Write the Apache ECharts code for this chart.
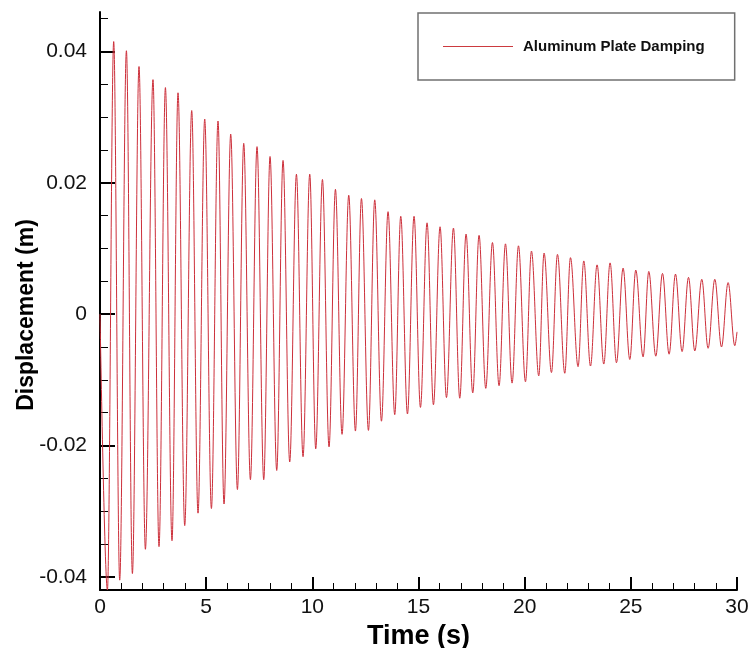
<!DOCTYPE html>
<html>
<head>
<meta charset="utf-8">
<script src="https://cdn.jsdelivr.net/npm/echarts@6/dist/echarts.min.js"></script>
<style>
html,body{margin:0;padding:0;background:#fff;}
#chart{width:751px;height:648px;}
</style>
</head>
<body>
<div id="chart"></div>
<script>
// Times (s) and displacements (m) of the local minima and maxima
const troughTimes = [0.349,0.928,1.526,2.138,2.779,3.391,3.990,4.616,5.247,5.841,6.472,7.084,7.711,8.323,8.935,9.562,
  10.160,10.787,11.399,12.030,12.643,13.255,13.881,14.480,15.092,15.704,16.317,16.943,17.555,18.168,18.794,19.407,
  20.038,20.664,21.262,21.889,22.515,23.100,23.726,24.324,24.951,25.577,26.175,26.802,27.414,28.012,28.639,29.270,29.896];
const troughValues = [-0.0420,-0.0405,-0.0395,-0.0358,-0.0354,-0.0345,-0.0322,-0.0303,-0.0296,-0.0289,-0.0267,-0.0252,-0.0252,-0.0238,-0.0225,-0.0217,
  -0.0205,-0.0202,-0.0183,-0.0178,-0.0177,-0.0163,-0.0153,-0.0152,-0.0142,-0.0138,-0.0127,-0.0128,-0.0120,-0.0113,-0.0109,-0.0105,
  -0.0103,-0.0094,-0.0089,-0.0090,-0.0080,-0.0079,-0.0076,-0.0074,-0.0069,-0.0065,-0.0064,-0.0061,-0.0057,-0.0056,-0.0052,-0.0050,-0.0048];
const peakTimes = [0.645,1.244,1.837,2.496,3.081,3.674,4.319,4.932,5.558,6.156,6.769,7.395,8.008,8.620,9.251,9.878,
  10.476,11.088,11.715,12.313,12.939,13.566,14.164,14.790,15.403,16.015,16.646,17.240,17.852,18.483,19.096,19.708,
  20.320,20.914,21.545,22.157,22.784,23.410,24.023,24.635,25.233,25.846,26.491,27.103,27.716,28.342,28.954,29.581];
const peakValues = [0.0415,0.0401,0.0377,0.0357,0.0345,0.0337,0.0310,0.0297,0.0294,0.0274,0.0260,0.0255,0.0240,0.0234,0.0213,0.0213,
  0.0205,0.0190,0.0181,0.0176,0.0174,0.0156,0.0149,0.0149,0.0139,0.0133,0.0131,0.0122,0.0120,0.0109,0.0107,0.0104,
  0.0096,0.0093,0.0091,0.0086,0.0081,0.0075,0.0078,0.0070,0.0067,0.0065,0.0062,0.0061,0.0056,0.0053,0.0053,0.0048];
const startPoint = [0, 0.0];
const endPoint = [30, -0.0027];

const seriesName = 'Aluminum Plate Damping';
const xTitle = 'Time (s)';
const yTitle = 'Displacement (m)';
const yMajorTicks = [-0.04, -0.02, 0, 0.02, 0.04];
const yMinorTicks = [-0.035,-0.03,-0.025,-0.015,-0.01,-0.005,0.005,0.01,0.015,0.025,0.03,0.035,0.045];

// build the alternating extremum sequence
const data = [startPoint];
for (let i = 0; i < troughTimes.length; i++) {
  data.push([troughTimes[i], troughValues[i]]);
  if (i < peakTimes.length) data.push([peakTimes[i], peakValues[i]]);
}
data.push(endPoint);

const font = "'Liberation Sans',Arial,Helvetica,sans-serif";
const chart = echarts.init(document.getElementById('chart'), null, {renderer: 'canvas'});
chart.setOption({
  animation: false,
  backgroundColor: '#ffffff',
  grid: {left: 100, right: 14, top: 12, bottom: 58, containLabel: false, outerBoundsMode: 'none'},
  legend: {
    show: true,
    left: 418, top: 13,
    padding: [26, 30, 26, 25],
    borderColor: '#707070', borderWidth: 1.5, backgroundColor: '#fff',
    icon: 'rect',
    itemWidth: 70, itemHeight: 1.2,
    itemStyle: {color: '#cc3a3f'},
    textStyle: {fontFamily: font, fontWeight: 'bold', fontSize: 15, color: '#111', padding: [0,0,0,5], lineHeight: 14},
    data: [seriesName]
  },
  xAxis: {
    type: 'value', min: 0, max: 30, interval: 5,
    name: xTitle, nameLocation: 'middle', nameGap: 27,
    nameTextStyle: {fontFamily: font, fontWeight: 'bold', fontSize: 27, color: '#000'},
    axisLine: {show: true, onZero: false, lineStyle: {color: '#000', width: 2}},
    axisTick: {show: true, inside: true, length: 13, lineStyle: {color: '#000', width: 2}},
    minorTick: {show: true, splitNumber: 5, length: 7, lineStyle: {color: '#000', width: 1}},
    axisLabel: {fontFamily: font, fontSize: 21, color: '#111', margin: 7},
    splitLine: {show: false}
  },
  yAxis: [{
    type: 'value', min: -0.042, max: 0.046, position: 'left',
    name: yTitle, nameLocation: 'middle', nameGap: 62, nameRotate: 90, nameMoveOverlap: false,
    nameTextStyle: {fontFamily: font, fontWeight: 'bold', fontSize: 23, color: '#000', padding: [0, 28, 0, 0]},
    axisLine: {show: true, onZero: false, lineStyle: {color: '#000', width: 2}},
    axisTick: {show: true, inside: true, length: 15, customValues: yMajorTicks, lineStyle: {color: '#000', width: 2}},
    axisLabel: {customValues: yMajorTicks, fontFamily: font, fontSize: 21, color: '#111', margin: 13,
      formatter: v => (v === 0 ? '0' : String(+v.toFixed(2)))},
    splitLine: {show: false}
  }, {
    type: 'value', min: -0.042, max: 0.046, position: 'left',
    axisLine: {show: false, onZero: false},
    axisTick: {show: true, inside: true, length: 8, customValues: yMinorTicks, lineStyle: {color: '#000', width: 1}},
    axisLabel: {show: false},
    splitLine: {show: false}
  }],
  series: [{
    name: seriesName, type: 'line', data: data, xAxisIndex: 0, yAxisIndex: 0,
    symbol: 'none', showSymbol: false, smooth: 0.36, smoothMonotone: 'x', clip: true,
    lineStyle: {color: '#cc2f3a', width: 1},
    itemStyle: {color: '#cc2f3a'}
  }]
});
</script>
</body>
</html>
